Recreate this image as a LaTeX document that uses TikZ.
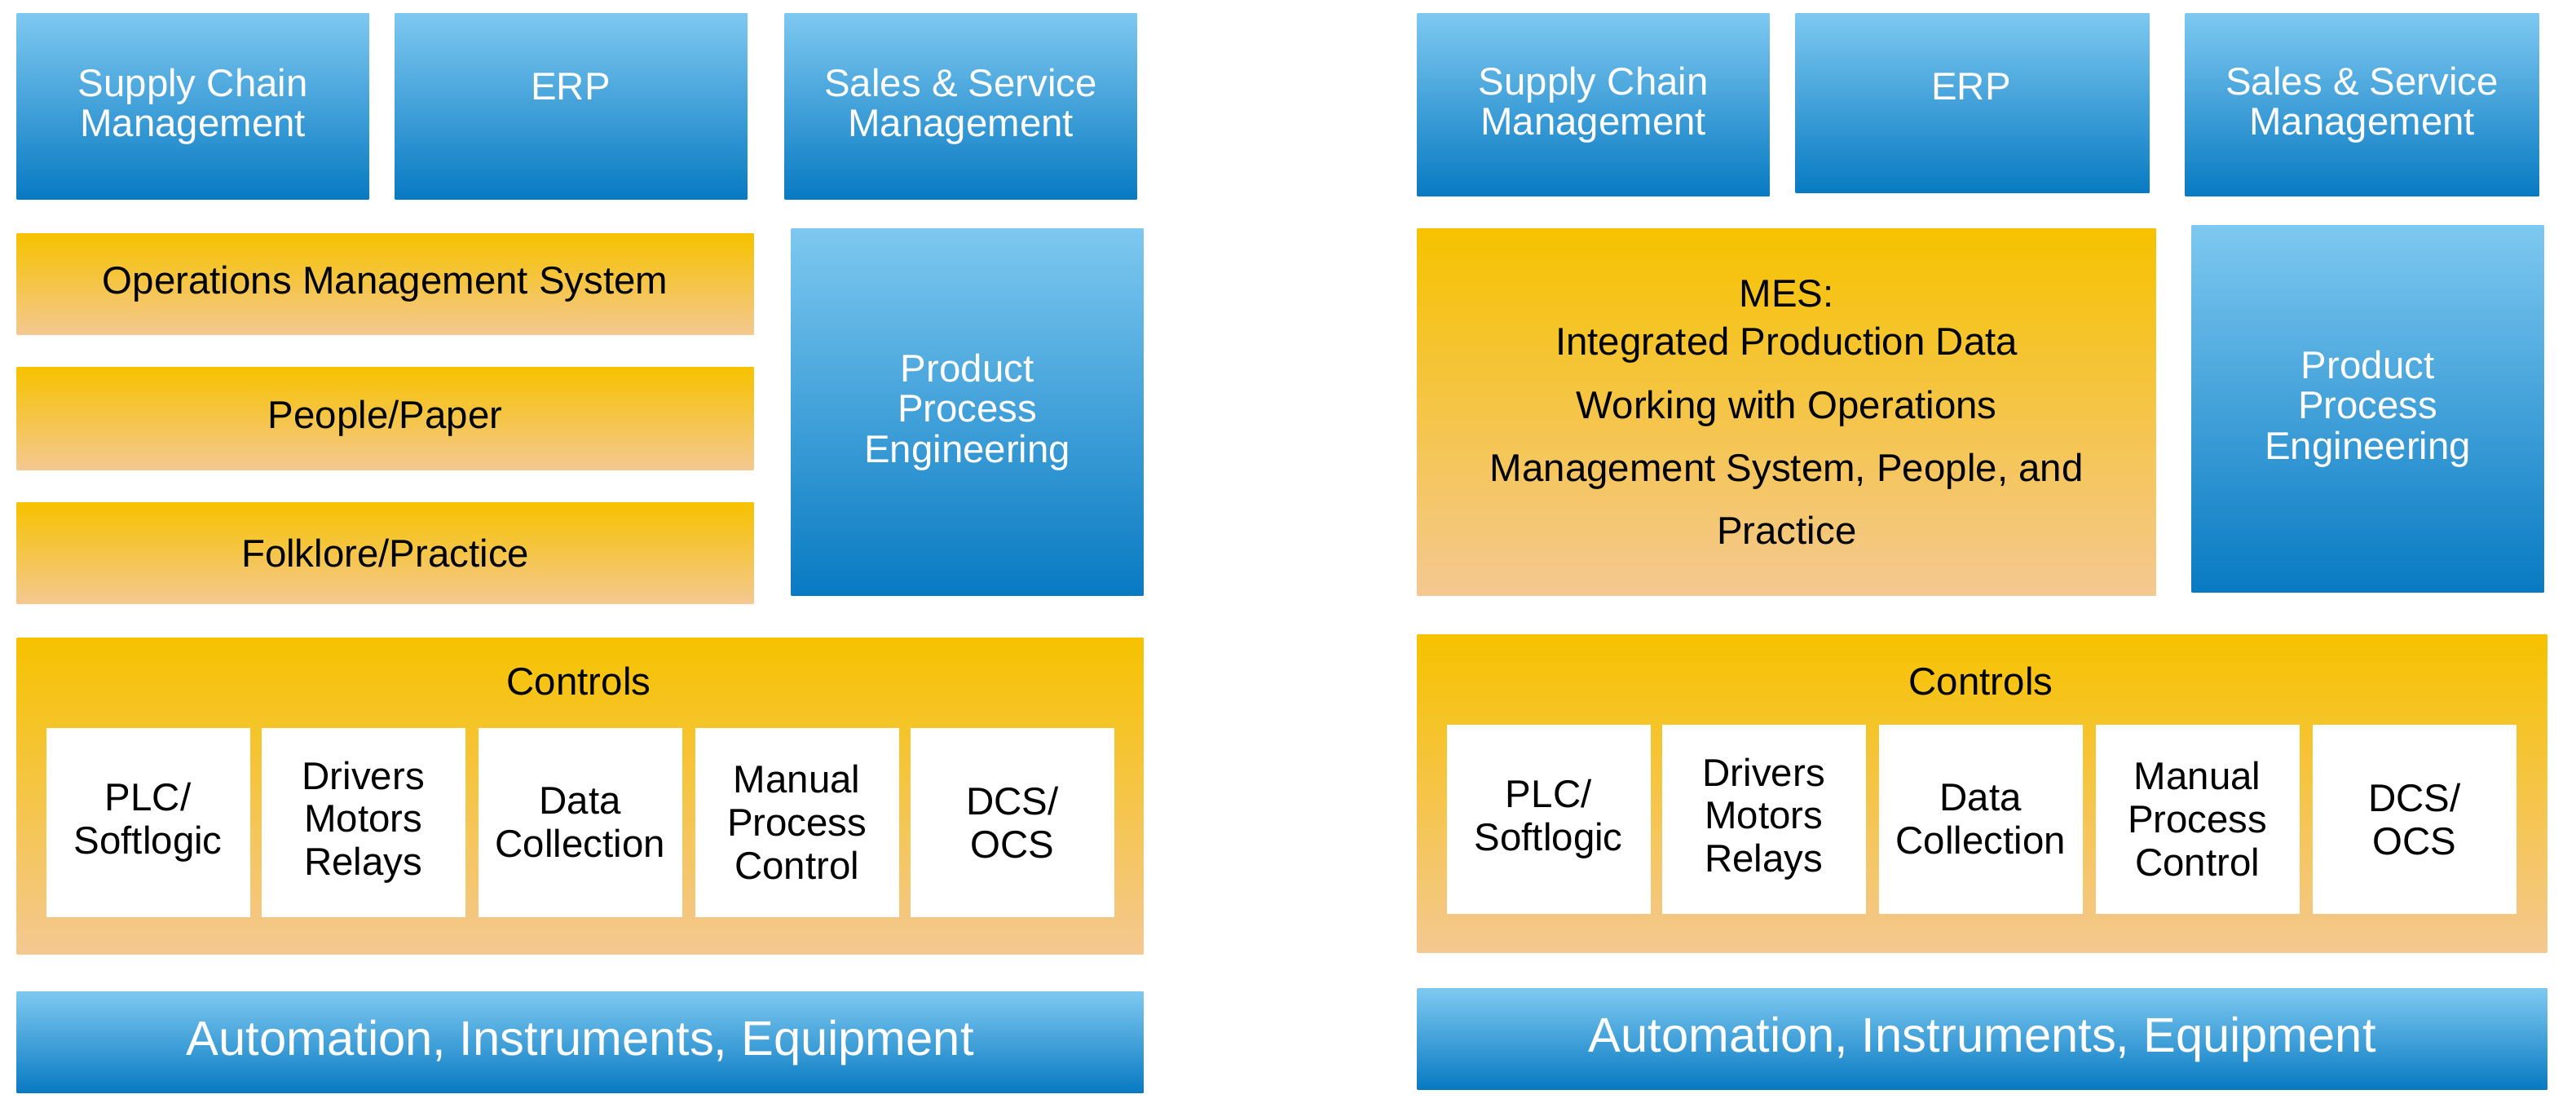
\documentclass[tikz,border=0pt]{standalone}
\usepackage{fontspec}
\setmainfont{Liberation Sans}
\usetikzlibrary{positioning}
\definecolor{blutop}{RGB}{125,200,240}
\definecolor{blubot}{RGB}{8,122,194}
\definecolor{orgtop}{RGB}{246,194,0}
\definecolor{orgbot}{RGB}{244,200,145}
\tikzset{
    sz/.style 2 args={
        minimum width=#1*0.02cm,
        minimum height=#2*0.02cm,
        inner sep=0pt,
        anchor=north west
    },
    blubox/.style={
        rectangle,
        top color=blutop,
        bottom color=blubot,
        text=white,
        align=center,
        font=\fontsize{13.5}{14}\selectfont
    },
    orgbox/.style={
        rectangle,
        top color=orgtop,
        bottom color=orgbot,
        text=black,
        align=center,
        font=\fontsize{13.5}{15}\selectfont
    },
    whtbox/.style={
        rectangle,
        fill=white,
        text=black,
        align=center,
        font=\fontsize{13.5}{15}\selectfont
    },
    title/.style={
        text=black,
        font=\fontsize{13.5}{15}\selectfont
    },
    bigtext/.style={
        font=\fontsize{17}{19}\selectfont
    }
}
\begin{document}
\begin{tikzpicture}[x=0.02cm, y=-0.02cm]
\useasboundingbox (0,0) rectangle (1580,682);

% Left panel
\node[blubox, sz={216}{114}] (scmL) at (10,8) {Supply Chain\\Management};
\node[blubox, sz={216}{114}] (erpL) at (242,8) {};
\node[title, text=white] at (350,53) {ERP};
\node[blubox, sz={216}{114}] (salesL) at (481,8) {Sales \& Service\\Management};
\node[orgbox, sz={452}{62}] (omsL) at (10,143) {Operations Management System};
\node[orgbox, sz={452}{63}] (peopleL) at (10,225) {People/Paper};
\node[orgbox, sz={452}{62}] (folkL) at (10,308) {Folklore/Practice};
\node[blubox, sz={216}{225}] (ppeL) at (485,140) {Product\\Process\\Engineering};
\node[orgbox, sz={691}{194}] (ctrlL) at (10,391) {};
\node[title] (ctrlLt) at (355,418) {Controls};
\node[whtbox, sz={125}{116}] (plcL) at (28,446) {PLC/\\Softlogic};
\node[whtbox, sz={125}{116}] (drvL) at (160,446) {Drivers\\Motors\\Relays};
\node[whtbox, sz={125}{116}] (dataL) at (293,446) {Data\\Collection};
\node[whtbox, sz={125}{116}] (manL) at (426,446) {Manual\\Process\\Control};
\node[whtbox, sz={125}{116}] (dcsL) at (558,446) {DCS/\\OCS};
\node[blubox, bigtext, sz={691}{62}] (autoL) at (10,608) {Automation, Instruments, Equipment};

% Right panel
\node[blubox, sz={216}{112}] (scmR) at (869,8) {Supply Chain\\Management};
\node[blubox, sz={217}{110}] (erpR) at (1101,8) {};
\node[title, text=white] at (1209,53) {ERP};
\node[blubox, sz={217}{112}] (salesR) at (1340,8) {Sales \& Service\\Management};
\node[orgbox, sz={453}{225}, font=\fontsize{13.5}{22}\selectfont] (mesR) at (869,140)
    {MES:\\[-5pt]Integrated Production Data\\Working with Operations\\Management System, People, and\\Practice};
\node[blubox, sz={216}{225}] (ppeR) at (1344,138) {Product\\Process\\Engineering};
\node[orgbox, sz={693}{195}] (ctrlR) at (869,389) {};
\node[title] (ctrlRt) at (1215,418) {Controls};
\node[whtbox, sz={125}{116}] (plcR) at (887,444) {PLC/\\Softlogic};
\node[whtbox, sz={125}{116}] (drvR) at (1019,444) {Drivers\\Motors\\Relays};
\node[whtbox, sz={125}{116}] (dataR) at (1152,444) {Data\\Collection};
\node[whtbox, sz={125}{116}] (manR) at (1285,444) {Manual\\Process\\Control};
\node[whtbox, sz={125}{116}] (dcsR) at (1418,444) {DCS/\\OCS};
\node[blubox, bigtext, sz={693}{62}] (autoR) at (869,606) {Automation, Instruments, Equipment};

\end{tikzpicture}
\end{document}
